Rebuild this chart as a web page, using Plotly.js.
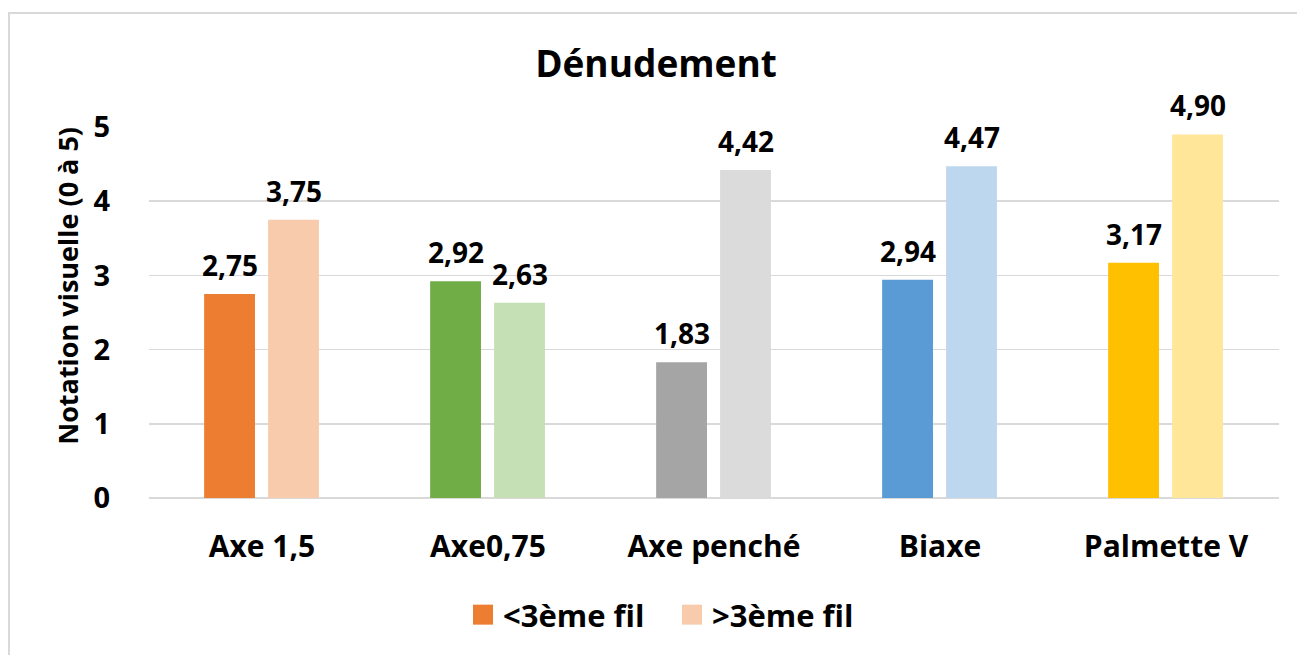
<!DOCTYPE html>
<html>
<head>
<meta charset="utf-8">
<script src="https://cdn.plot.ly/plotly-3.0.1.min.js"></script>
<style>
html,body{margin:0;padding:0;background:#fff;overflow:hidden;}
#chart{width:1297px;height:655px;position:absolute;left:0;top:0;}
#frame{position:absolute;left:8px;top:12px;width:1310px;height:670px;border:2px solid #d9d9d9;pointer-events:none;box-sizing:border-box;}
</style>
</head>
<body>
<div id="chart"></div>
<div id="frame"></div>
<script>
const categories = ['Axe 1,5', 'Axe0,75', 'Axe penché', 'Biaxe', 'Palmette V'];
const seriesNames = ['<3ème fil', '>3ème fil'];
const below3 = [2.75, 2.92, 1.83, 2.94, 3.17];
const above3 = [3.75, 2.63, 4.42, 4.47, 4.90];
const colorsBelow = ['#ED7D31', '#70AD47', '#A5A5A5', '#5B9BD5', '#FFC000'];
const colorsAbove = ['#F8CBAD', '#C5E0B4', '#DBDBDB', '#BDD7EE', '#FFE699'];
const yTicks = [0, 1, 2, 3, 4, 5];

const FONT = '"Open Sans", "Noto Sans", sans-serif';
const barW = 0.225;
const offs = [-0.256, 0.027];

const fmt = v => v.toFixed(2).replace('.', ',');

const traces = [
  {type:'bar', name:seriesNames[0], x:categories, y:below3, width:barW, offset:offs[0],
   marker:{color:colorsBelow, line:{width:0}}, hoverinfo:'none'},
  {type:'bar', name:seriesNames[1], x:categories, y:above3, width:barW, offset:offs[1],
   marker:{color:colorsAbove, line:{width:0}}, hoverinfo:'none'}
];

const annotations = [];
[below3, above3].forEach((arr, s) => {
  arr.forEach((v, i) => {
    annotations.push({
      x: i + offs[s] + barW/2, y: v, xref:'x', yref:'y',
      text: fmt(v), showarrow:false, yanchor:'bottom', yshift:8,
      font:{family:FONT, size:28, color:'#000', weight:700}
    });
  });
});
annotations.push({
  xref:'paper', yref:'paper', x:-0.072, y:0.571, textangle:-90,
  text:'Notation visuelle (0 à 5)', showarrow:false, xanchor:'center', yanchor:'middle',
  font:{family:FONT, size:27, color:'#000', weight:700}
});

const layout = {
  width:1297, height:655,
  margin:{l:149, r:18, t:127, b:157, pad:0},
  paper_bgcolor:'#fff', plot_bgcolor:'#fff',
  font:{family:FONT, color:'#000'},
  title:{text:'Dénudement', x:656/1297, xref:'container', xanchor:'center',
         y:1-64/655, yref:'container', yanchor:'middle',
         font:{family:FONT, size:37, color:'#000', weight:700}},
  xaxis:{type:'category', showgrid:false, zeroline:false, showline:false, ticks:'',
         ticklabelstandoff:28, tickfont:{family:FONT, size:30, color:'#000', weight:700},
         fixedrange:true},
  yaxis:{range:[0,5], tickvals:yTicks, ticktext:yTicks.map(String),
         showgrid:true, gridcolor:'#d9d9d9', gridwidth:1.5, zeroline:true, zerolinecolor:'#d9d9d9', zerolinewidth:1.5,
         showline:false, ticks:'', ticklabelstandoff:38,
         tickfont:{family:FONT, size:29, color:'#000', weight:700}, fixedrange:true},
  showlegend:true,
  legend:{orientation:'h', xref:'container', yref:'container', x:463/1297, xanchor:'left',
          y:1-615/655, yanchor:'middle', font:{family:FONT, size:31, color:'#000', weight:700},
          itemwidth:30, entrywidth:164, entrywidthmode:'pixels',
          traceorder:'normal', bgcolor:'rgba(0,0,0,0)'},
  annotations: annotations,
  bargap:0.2, bargroupgap:0
};

Plotly.newPlot('chart', traces, layout, {staticPlot:true, displayModeBar:false}).then(gd => {
  gd.querySelectorAll('.legend .legendpoints path').forEach(p => {
    p.setAttribute('d', 'M10,10H-10V-10H10Z');
  });
});
</script>
</body>
</html>
